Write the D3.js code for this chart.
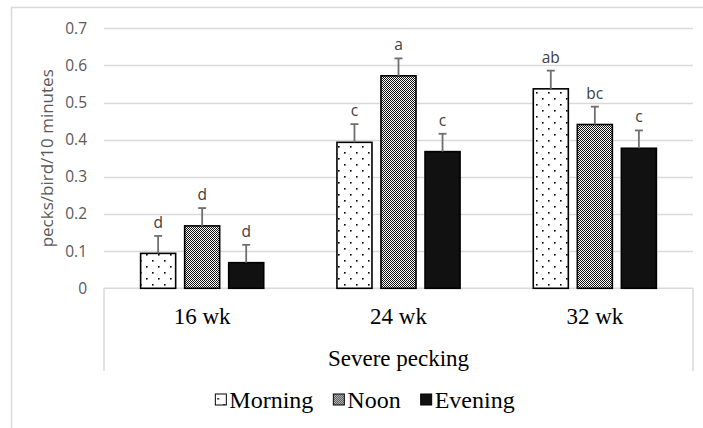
<!DOCTYPE html>
<html>
<head>
<meta charset="utf-8">
<script src="https://cdn.jsdelivr.net/npm/d3@7/dist/d3.min.js"></script>
<style>
  html, body { margin: 0; padding: 0; background: #fff; }
  svg { display: block; }
</style>
</head>
<body>
<svg id="chart" width="703" height="428"></svg>
<script>
// ---- data ----
const categories = ["16 wk", "24 wk", "32 wk"];
const seriesNames = ["Morning", "Noon", "Evening"];
const morning = [0.094, 0.393, 0.537];
const noon    = [0.168, 0.572, 0.441];
const evening = [0.069, 0.368, 0.377];
const morningErr = [0.047, 0.049, 0.049];
const noonErr    = [0.048, 0.047, 0.048];
const eveningErr = [0.048, 0.048, 0.048];
const morningLetters = ["d", "c", "ab"];
const noonLetters    = ["d", "a", "bc"];
const eveningLetters = ["d", "c", "c"];
const yTicks = [0, 0.1, 0.2, 0.3, 0.4, 0.5, 0.6, 0.7];
const yTitle = "pecks/bird/10 minutes";
const xTitle = "Severe pecking";

const seriesValues = [morning, noon, evening];
const seriesErrs = [morningErr, noonErr, eveningErr];
const seriesLetters = [morningLetters, noonLetters, eveningLetters];

const svg = d3.select("#chart");
const defs = svg.append("defs");

// patterns
const pDots = defs.append("pattern").attr("id", "pat-morning")
  .attr("patternUnits", "userSpaceOnUse").attr("width", 12).attr("height", 12);
pDots.append("rect").attr("width", 12).attr("height", 12).attr("fill", "#fff");
pDots.append("rect").attr("x", 2).attr("y", 2).attr("width", 1.6).attr("height", 1.6).attr("fill", "#000");
pDots.append("rect").attr("x", 8).attr("y", 8).attr("width", 1.6).attr("height", 1.6).attr("fill", "#000");

const pCheck = defs.append("pattern").attr("id", "pat-noon")
  .attr("patternUnits", "userSpaceOnUse").attr("width", 2).attr("height", 2);
pCheck.append("rect").attr("width", 2).attr("height", 2).attr("fill", "#fff");
pCheck.append("rect").attr("x", 0).attr("y", 0).attr("width", 1).attr("height", 1).attr("fill", "#111");
pCheck.append("rect").attr("x", 1).attr("y", 1).attr("width", 1).attr("height", 1).attr("fill", "#111");

const fills = ["url(#pat-morning)", "url(#pat-noon)", "#111"];

// outer border
svg.append("rect").attr("x", 11.5).attr("y", 7.5).attr("width", 700).attr("height", 430)
  .attr("fill", "none").attr("stroke", "#d9d9d9").attr("stroke-width", 1.5);

const plotLeft = 104, plotRight = 693, plotTop = 28.3, plotBottom = 288.3;

const y = d3.scaleLinear().domain([0, 0.7]).range([plotBottom, plotTop]);
const x0 = d3.scaleBand().domain(categories).range([plotLeft, plotRight])
  .paddingInner(0.373).paddingOuter(0.1865);
const x1 = d3.scaleBand().domain(seriesNames).range([0, x0.bandwidth()])
  .paddingInner(9 / 44).paddingOuter(0);

// gridlines
svg.append("g").selectAll("line").data(yTicks.filter(t => t > 0)).join("line")
  .attr("x1", plotLeft).attr("x2", plotRight)
  .attr("y1", d => Math.round(y(d)) + 0.5).attr("y2", d => Math.round(y(d)) + 0.5)
  .attr("stroke", "#d9d9d9").attr("stroke-width", 1.5);

// category axis box
const boxBottom = 371;
const box = svg.append("g").attr("stroke", "#d9d9d9").attr("stroke-width", 1.5).attr("fill", "none");
box.append("line").attr("x1", plotLeft).attr("x2", plotRight).attr("y1", y(0)).attr("y2", y(0));
box.append("line").attr("x1", plotLeft).attr("x2", plotLeft).attr("y1", y(0)).attr("y2", boxBottom);
box.append("line").attr("x1", plotRight).attr("x2", plotRight).attr("y1", y(0)).attr("y2", boxBottom);

// y tick labels
svg.append("g").selectAll("text").data(yTicks).join("text")
  .attr("x", 87).attr("y", d => y(d)).attr("dy", "0.35em")
  .attr("text-anchor", "end")
  .attr("font-family", "Open Sans, sans-serif").attr("font-size", 15.5)
  .attr("fill", "#595959")
  .text(d => d === 0 ? "0" : d3.format(".1f")(d));

// y title
svg.append("text")
  .attr("transform", `translate(47,${(plotTop + plotBottom) / 2}) rotate(-90)`)
  .attr("text-anchor", "middle").attr("dy", "0.35em")
  .attr("font-family", "Open Sans, sans-serif").attr("font-size", 17)
  .attr("fill", "#595959")
  .text(yTitle);

// bars
const flat = [];
categories.forEach((c, ci) => {
  seriesNames.forEach((s, si) => {
    flat.push({ c, s, si, v: seriesValues[si][ci], e: seriesErrs[si][ci], l: seriesLetters[si][ci] });
  });
});

const gBars = svg.append("g");
gBars.selectAll("rect").data(flat).join("rect")
  .attr("x", d => x0(d.c) + x1(d.s))
  .attr("y", d => y(d.v))
  .attr("width", x1.bandwidth())
  .attr("height", d => y(0) - y(d.v))
  .attr("fill", d => fills[d.si])
  .attr("stroke", "#000").attr("stroke-width", 1.6);

// error bars
const gErr = svg.append("g").attr("stroke", "#6f6f6f").attr("stroke-width", 1.8);
flat.forEach(d => {
  const bx = x0(d.c) + x1(d.s) + x1.bandwidth() / 2;
  gErr.append("line").attr("x1", bx).attr("x2", bx).attr("y1", y(d.v)).attr("y2", y(d.v + d.e));
  gErr.append("line").attr("x1", bx - 4).attr("x2", bx + 4).attr("y1", y(d.v + d.e)).attr("y2", y(d.v + d.e));
});

// letters
svg.append("g").selectAll("text").data(flat).join("text")
  .attr("x", d => x0(d.c) + x1(d.s) + x1.bandwidth() / 2)
  .attr("y", d => y(d.v + d.e) - 8)
  .attr("text-anchor", "middle")
  .attr("font-family", "Open Sans, sans-serif").attr("font-size", 15.5)
  .attr("fill", "#404040")
  .text(d => d.l);

// category labels
svg.append("g").selectAll("text").data(categories).join("text")
  .attr("x", d => x0(d) + x0.bandwidth() / 2)
  .attr("y", 324)
  .attr("text-anchor", "middle")
  .attr("font-family", "Liberation Serif, Times New Roman, serif").attr("font-size", 23)
  .attr("fill", "#000")
  .text(d => d);

svg.append("text")
  .attr("x", (plotLeft + plotRight) / 2).attr("y", 366)
  .attr("text-anchor", "middle")
  .attr("font-family", "Liberation Serif, Times New Roman, serif").attr("font-size", 23)
  .attr("fill", "#000")
  .text(xTitle);

// legend
const legend = svg.append("g");
const swatch = 11, gapST = 3, gapItems = 20;
const items = [];
seriesNames.forEach((s, si) => {
  const g = legend.append("g");
  g.append("rect").attr("x", 0).attr("y", 394).attr("width", swatch).attr("height", swatch)
    .attr("fill", fills[si]).attr("stroke", "#000").attr("stroke-width", 1);
  const t = g.append("text").attr("x", swatch + gapST).attr("y", 408)
    .attr("font-family", "Liberation Serif, Times New Roman, serif").attr("font-size", 24)
    .attr("fill", "#000").text(s);
  const w = swatch + gapST + t.node().getComputedTextLength();
  items.push({ g, w });
});
const totalW = d3.sum(items, d => d.w) + gapItems * (items.length - 1);
let legX = 365 - totalW / 2;
items.forEach(it => {
  it.g.attr("transform", `translate(${legX},0)`);
  legX += it.w + gapItems;
});
</script>
</body>
</html>
